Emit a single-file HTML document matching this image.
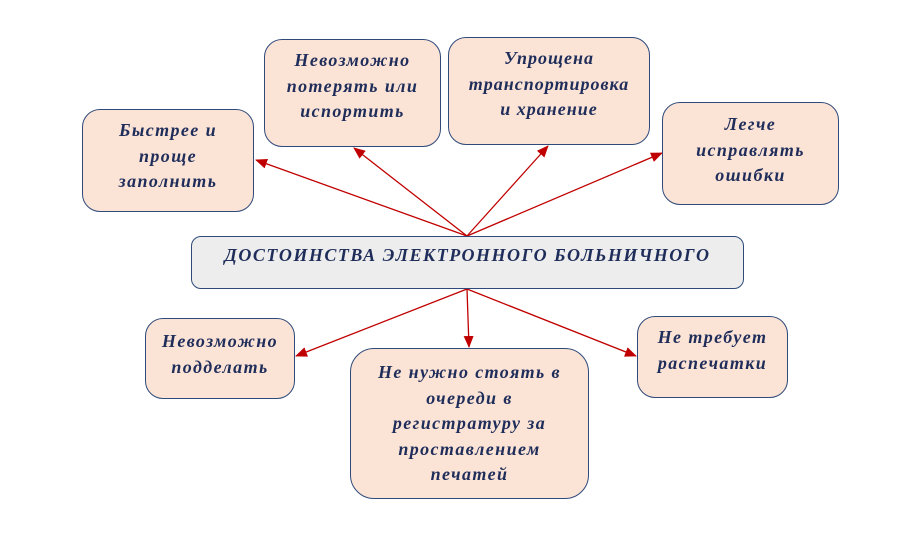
<!DOCTYPE html>
<html><head><meta charset="utf-8"><style>
body{margin:0;width:899px;height:540px;background:#fff;position:relative;overflow:hidden}
.b{position:absolute;box-sizing:border-box;background:#fbe3d6;border:1.5px solid #2f4a7a;border-radius:18px;text-align:center;font-family:"Liberation Serif",serif;font-weight:bold;font-style:italic;font-size:18px;letter-spacing:1.4px;line-height:25.5px;color:#1f2d5a;padding-top:9px;white-space:nowrap}
svg{position:absolute;left:0;top:0}
</style></head><body>
<svg width="899" height="540">
<defs><marker id="a" markerWidth="12" markerHeight="10" refX="11" refY="5" orient="auto" markerUnits="userSpaceOnUse"><path d="M0,0L12,5L0,10z" fill="#c00000"/></marker></defs>
<g stroke="#c00000" stroke-width="1.3" fill="none" marker-end="url(#a)">
<line x1="467" y1="236" x2="256" y2="160"/>
<line x1="467" y1="236" x2="354" y2="148"/>
<line x1="467" y1="236" x2="548" y2="146"/>
<line x1="467" y1="236" x2="662" y2="153"/>
<line x1="467" y1="289" x2="296" y2="356"/>
<line x1="467" y1="289" x2="469" y2="347"/>
<line x1="467" y1="289" x2="636" y2="356"/>
</g></svg>
<div class="b" style="left:82px;top:109px;width:172px;height:103px;padding-top:8px">Быстрее и<br>проще<br>заполнить</div>
<div class="b" style="left:264px;top:39px;width:177px;height:108px;padding-top:8px">Невозможно<br>потерять или<br>испортить</div>
<div class="b" style="left:448px;top:37px;width:202px;height:108px;padding-top:8px;letter-spacing:1px">Упрощена<br>транспортировка<br>и хранение</div>
<div class="b" style="left:662px;top:102px;width:177px;height:103px;padding-top:9px">Легче<br>исправлять<br>ошибки</div>
<div class="b" style="left:191px;top:236px;width:553px;height:53px;background:#ededed;border-radius:10px;padding-top:6px;letter-spacing:1.5px">ДОСТОИНСТВА ЭЛЕКТРОННОГО БОЛЬНИЧНОГО</div>
<div class="b" style="left:145px;top:318px;width:150px;height:81px;padding-top:10px">Невозможно<br>подделать</div>
<div class="b" style="left:350px;top:348px;width:239px;height:151px;border-radius:24px;padding-top:11px">Не нужно стоять в<br>очереди в<br>регистратуру за<br>проставлением<br>печатей</div>
<div class="b" style="left:637px;top:316px;width:151px;height:82px;padding-top:8px">Не требует<br>распечатки</div>
</body></html>
